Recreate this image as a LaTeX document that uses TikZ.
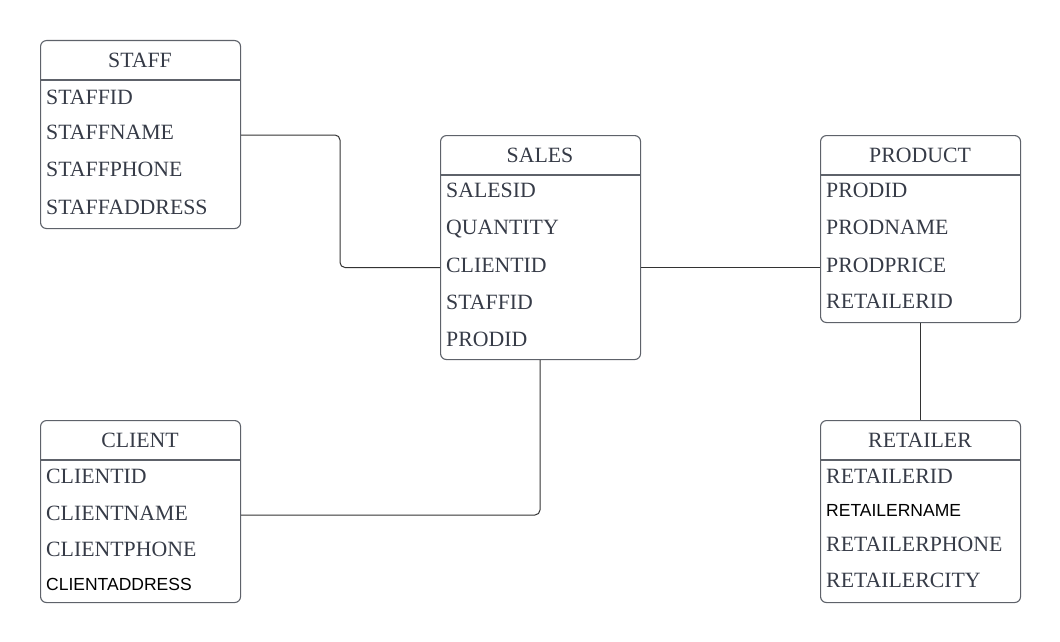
\documentclass[tikz,border=0pt]{standalone}
\usepackage{fontspec}
\setmainfont{Liberation Serif}
\newfontfamily\arialf{Liberation Sans}
\definecolor{boxline}{HTML}{5E626A}
\definecolor{txt}{HTML}{363B47}
\definecolor{conncol}{HTML}{333333}
\begin{document}
\begin{tikzpicture}[x=1pt,y=-1pt,
  tbl/.style={draw=boxline,line width=1.1pt,rounded corners=6pt,minimum width=200pt,anchor=north west,inner sep=0pt,fill=none},
  hdr/.style={anchor=base,font=\fontsize{21.8}{24}\selectfont,text=txt,inner sep=0pt},
  fld/.style={anchor=base west,font=\fontsize{21.8}{24}\selectfont,text=txt,inner sep=0pt},
  sfld/.style={anchor=base west,font=\arialf\fontsize{17.5}{20}\selectfont,text=black,inner sep=0pt},
  sep/.style={draw=boxline,line width=1.1pt},
  conn/.style={draw=conncol,line width=1pt,rounded corners=5pt}]
\useasboundingbox (0,0) rectangle (1060,642);
% STAFF
\node[tbl,minimum height=188pt] (staff) at (40,40) {};
\node[hdr] (staffh) at (140,67.5) {STAFF};
\draw[sep] (staff.west |- 0,80) -- (staff.east |- 0,80);
\node[fld] (staff1) at (46,104.5) {STAFFID};
\node[fld] (staff2) at (46,139.5) {STAFFNAME};
\node[fld] (staff3) at (46,176.5) {STAFFPHONE};
\node[fld] (staff4) at (46,214.5) {STAFFADDRESS};
% SALES
\node[tbl,minimum height=224pt] (sales) at (440,135) {};
\node[hdr] (salesh) at (540,162.5) {SALES};
\draw[sep] (sales.west |- 0,175) -- (sales.east |- 0,175);
\node[fld] (sales1) at (446,197.5) {SALESID};
\node[fld] (sales2) at (446,234.5) {QUANTITY};
\node[fld] (sales3) at (446,272.5) {CLIENTID};
\node[fld] (sales4) at (446,309.5) {STAFFID};
\node[fld] (sales5) at (446,346.5) {PRODID};
% PRODUCT
\node[tbl,minimum height=187pt] (prod) at (820,135) {};
\node[hdr] (prodh) at (920,162.5) {PRODUCT};
\draw[sep] (prod.west |- 0,175) -- (prod.east |- 0,175);
\node[fld] (prod1) at (826,197.5) {PRODID};
\node[fld] (prod2) at (826,234.5) {PRODNAME};
\node[fld] (prod3) at (826,272.5) {PRODPRICE};
\node[fld] (prod4) at (826,308.5) {RETAILERID};
% CLIENT
\node[tbl,minimum height=182pt] (client) at (40,420) {};
\node[hdr] (clienth) at (140,447.5) {CLIENT};
\draw[sep] (client.west |- 0,460) -- (client.east |- 0,460);
\node[fld] (client1) at (46,483.5) {CLIENTID};
\node[fld] (client2) at (46,520.5) {CLIENTNAME};
\node[fld] (client3) at (46,556.5) {CLIENTPHONE};
\node[sfld] (client4) at (46,590.3) {CLIENTADDRESS};
% RETAILER
\node[tbl,minimum height=182pt] (ret) at (820,420) {};
\node[hdr] (reth) at (920,447.5) {RETAILER};
\draw[sep] (ret.west |- 0,460) -- (ret.east |- 0,460);
\node[fld] (ret1) at (826,483.5) {RETAILERID};
\node[sfld] (ret2) at (826,516.3) {RETAILERNAME};
\node[fld] (ret3) at (826,551.5) {RETAILERPHONE};
\node[fld] (ret4) at (826,587.5) {RETAILERCITY};
% connectors
\coordinate (c1) at (340,135);
\coordinate (c2) at (340,267.5);
\draw[conn] (staff.east |- c1) -- (c1) -- (c2) -- (sales.west |- c2);
\draw[conn] (sales.east |- c2) -- (prod.west |- c2);
\coordinate (c3) at (540,515);
\draw[conn] (sales.south -| c3) -- (c3) -- (client.east |- c3);
\draw[conn] (prod.south) -- (ret.north);
\end{tikzpicture}
\end{document}
